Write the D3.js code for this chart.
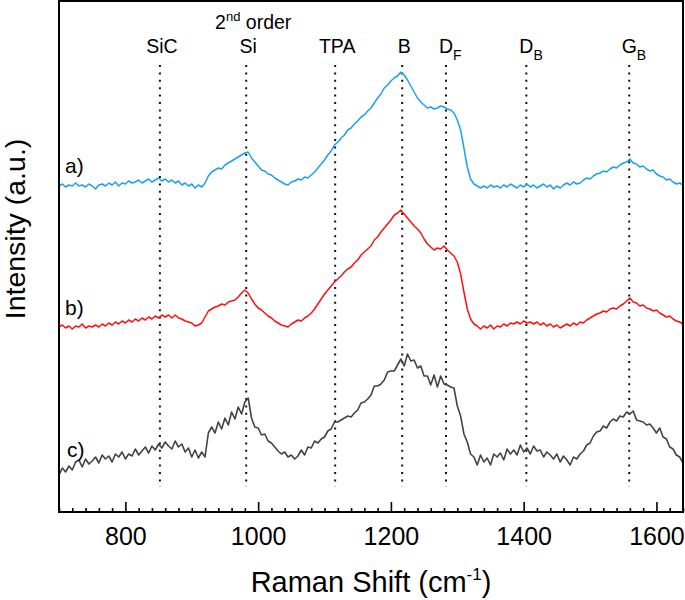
<!DOCTYPE html>
<html><head><meta charset="utf-8">
<script src="https://cdn.jsdelivr.net/npm/d3@7"></script>
<style>
body{margin:0;background:#fff}
svg{display:block}
text{font-family:"Liberation Sans",Arial,Helvetica,sans-serif;fill:#000}
</style>
</head><body>
<svg id="chart" width="685" height="600"></svg>
<script>
// Raman shift sampling positions (cm^-1)
const wavenumbers = [
700,705,710,715,720,725,730,735,740,745,750,755,760,765,770,775,780,785,790,795,
800,805,810,815,820,825,830,835,840,845,850,855,860,865,870,875,880,885,890,895,
900,905,910,915,920,925,930,935,940,945,950,955,960,965,970,975,980,985,990,995,
1000,1005,1010,1015,1020,1025,1030,1035,1040,1045,1050,1055,1060,1065,1070,1075,1080,1085,1090,1095,
1100,1105,1110,1115,1120,1125,1130,1135,1140,1145,1150,1155,1160,1165,1170,1175,1180,1185,1190,1195,
1200,1205,1210,1215,1220,1225,1230,1235,1240,1245,1250,1255,1260,1265,1270,1275,1280,1285,1290,1295,
1300,1305,1310,1315,1320,1325,1330,1335,1340,1345,1350,1355,1360,1365,1370,1375,1380,1385,1390,1395,
1400,1405,1410,1415,1420,1425,1430,1435,1440,1445,1450,1455,1460,1465,1470,1475,1480,1485,1490,1495,
1500,1505,1510,1515,1520,1525,1530,1535,1540,1545,1550,1555,1560,1565,1570,1575,1580,1585,1590,1595,
1600,1605,1610,1615,1620,1625,1630,1635,1640];

// Intensities (a.u., stacked with offsets as in the figure)
const seriesA = [
326,328,325,327,326,329,326,327,325,328,326,323,327,328,326,329,327,330,326,329,
328,331,329,330,332,329,331,333,330,332,334,331,333,330,332,329,331,327,329,326,
328,324,327,325,329,336,340,342,344,343,347,349,351,353,355,357,359,360,354,350,
346,342,341,338,337,334,332,330,328,327,330,331,333,332,335,334,337,340,344,348,
352,357,361,367,370,374,377,382,384,388,391,395,397,401,404,409,414,418,424,427,
431,434,436,440,437,432,426,420,414,410,407,404,405,403,404,406,405,403,402,399,
392,382,364,345,333,328,326,324,326,324,327,325,326,324,327,325,328,326,324,327,
325,328,325,327,324,326,328,325,327,323,326,324,327,329,327,330,328,329,332,334,
333,336,338,339,341,340,343,345,344,347,349,350,353,349,348,345,346,343,341,342,
338,336,335,332,333,330,328,329,327];

const seriesB = [
185,187,184,186,183,186,185,188,184,186,185,187,185,188,186,189,187,190,188,191,
189,192,190,193,191,194,192,195,193,196,194,197,195,197,194,197,194,193,191,190,
189,186,187,189,195,201,203,205,206,208,207,210,211,212,215,219,222,219,213,208,
204,202,199,196,194,191,189,187,186,185,188,190,192,191,194,196,199,203,208,213,
218,222,226,230,233,236,240,243,245,249,252,257,260,263,266,272,275,280,284,288,
292,297,299,302,298,294,290,286,283,279,273,268,265,262,264,263,266,262,259,256,
250,238,220,203,193,188,186,183,186,184,187,183,186,185,188,186,189,188,190,188,
191,189,190,188,190,187,189,186,188,185,187,184,186,188,186,189,187,190,189,192,
194,196,198,199,201,200,203,204,203,206,208,211,214,210,209,206,207,204,203,201,
202,199,197,195,196,193,191,190,188];

const seriesC = [
37,44,40,46,42,50,52,45,53,48,51,55,49,57,53,56,50,58,55,60,
53,58,56,63,57,61,65,59,66,62,68,64,70,66,63,71,65,68,60,64,
55,62,54,60,55,79,85,79,90,83,94,87,100,93,105,98,110,114,94,85,
84,77,78,71,69,65,61,58,60,55,57,53,56,62,57,65,64,71,69,73,
75,81,83,90,90,92,94,96,95,99,102,109,110,113,117,126,126,128,132,140,
141,141,147,153,146,158,151,152,144,146,136,136,127,137,125,136,128,127,125,124,
106,96,78,70,58,55,47,57,50,54,47,58,55,59,52,63,58,62,57,67,
60,64,58,66,61,62,55,60,57,53,58,50,56,52,47,55,53,58,61,67,
69,76,80,81,86,84,90,93,91,96,95,100,98,101,92,91,90,87,88,84,
79,84,75,73,65,63,57,55,49];

const seriesLabels = ["a)", "b)", "c)"];
const seriesColors = ["#1aa1f2", "#ff1010", "#434343"];

// Peak assignment markers
const peakPositions = [852, 982, 1116, 1217, 1283, 1404, 1559];
const peakMain = ["SiC", "Si", "TPA", "B", "D", "D", "G"];
const peakSub  = ["", "", "", "", "F", "B", "B"];

const xTicks = [800, 1000, 1200, 1400, 1600];
const xTickLabels = ["800", "1000", "1200", "1400", "1600"];

// ---------- drawing ----------
const svg = d3.select("#chart");
const L = 59, R = 683, T = 1, B = 512;
const font = '"Liberation Sans",Arial,Helvetica,sans-serif';

const x = d3.scaleLinear().domain([700, 1640]).range([L, R]);
const y = d3.scaleLinear().domain([0, 511]).range([B, T]);

svg.append("defs").append("clipPath").attr("id", "clip")
  .append("rect").attr("x", L).attr("y", T).attr("width", R - L).attr("height", B - T);

// dotted peak markers
const mk = svg.append("g");
peakPositions.forEach((p, i) => {
  mk.append("line")
    .attr("x1", x(p)).attr("x2", x(p))
    .attr("y1", 65).attr("y2", 487)
    .attr("stroke", "#111").attr("stroke-width", 2)
    .attr("stroke-dasharray", "2,5.4");
  const t = mk.append("text")
    .attr("x", x(p) + (peakSub[i] ? 0 : 2)).attr("y", 53)
    .attr("text-anchor", "middle")
    .style("font-size", "19.5px")
    .text(peakMain[i]);
  if (peakSub[i]) {
    const w = t.node().getComputedTextLength();
    mk.append("text")
      .attr("x", x(p) + w / 2).attr("y", 60)
      .style("font-size", "14px")
      .text(peakSub[i]);
  }
});
// "2nd order" above Si
const so = mk.append("text").attr("x", x(982) + 7).attr("y", 29)
  .attr("text-anchor", "middle").style("font-size", "19.5px");
so.append("tspan").text("2");
so.append("tspan").attr("dy", -8).style("font-size", "13px").text("nd");
so.append("tspan").attr("dy", 8).text(" order");

// spectra
const allSeries = [seriesA, seriesB, seriesC];
const line = d3.line().x((d, i) => x(wavenumbers[i])).y(d => y(d));
const plot = svg.append("g").attr("clip-path", "url(#clip)");
allSeries.forEach((s, k) => {
  plot.append("path").datum(s)
    .attr("fill", "none")
    .attr("stroke", seriesColors[k])
    .attr("stroke-width", k === 2 ? 1.6 : 1.5)
    .attr("stroke-linejoin", "round")
    .attr("d", line);
});

// series labels
const labelLift = [13, 12, 18];
allSeries.forEach((s, k) => {
  svg.append("text")
    .attr("x", 65 + (k === 2 ? 2 : 0)).attr("y", y(s[0]) - labelLift[k])
    .style("font-size", "21px")
    .text(seriesLabels[k]);
});

// axes: minor ticks
const minorVals = d3.range(700, 1641, 20).filter(v => !xTicks.includes(v));
const gMinor = svg.append("g").attr("transform", `translate(0,${B})`)
  .call(d3.axisBottom(x).tickValues(minorVals).tickSize(-4).tickFormat(""));
gMinor.select(".domain").remove();
gMinor.selectAll("line").attr("stroke", "#000").attr("stroke-width", 1.6);

// major ticks
const gMajor = svg.append("g").attr("transform", `translate(0,${B})`)
  .call(d3.axisBottom(x).tickValues(xTicks).tickSize(-10)
    .tickFormat((d, i) => xTickLabels[i]));
gMajor.select(".domain").remove();
gMajor.selectAll("line").attr("stroke", "#000").attr("stroke-width", 1.6);
gMajor.selectAll("text")
  .attr("y", 33).attr("dy", 0)
  .attr("font-family", font)
  .style("font-size", "25px").attr("fill", "#000");

// frame
svg.append("rect").attr("x", L).attr("y", T).attr("width", R - L).attr("height", B - T)
  .attr("fill", "none").attr("stroke", "#000").attr("stroke-width", 2);

// axis titles
const xt = svg.append("text").attr("x", (L + R) / 2).attr("y", 592)
  .attr("text-anchor", "middle").style("font-size", "29px");
xt.append("tspan").text("Raman Shift (cm");
xt.append("tspan").attr("dy", -12).style("font-size", "17px").text("-1");
xt.append("tspan").attr("dy", 12).text(")");

svg.append("text")
  .attr("transform", "translate(25,229) rotate(-90)")
  .attr("text-anchor", "middle").style("font-size", "28.5px")
  .text("Intensity (a.u.)");
</script>
</body></html>
